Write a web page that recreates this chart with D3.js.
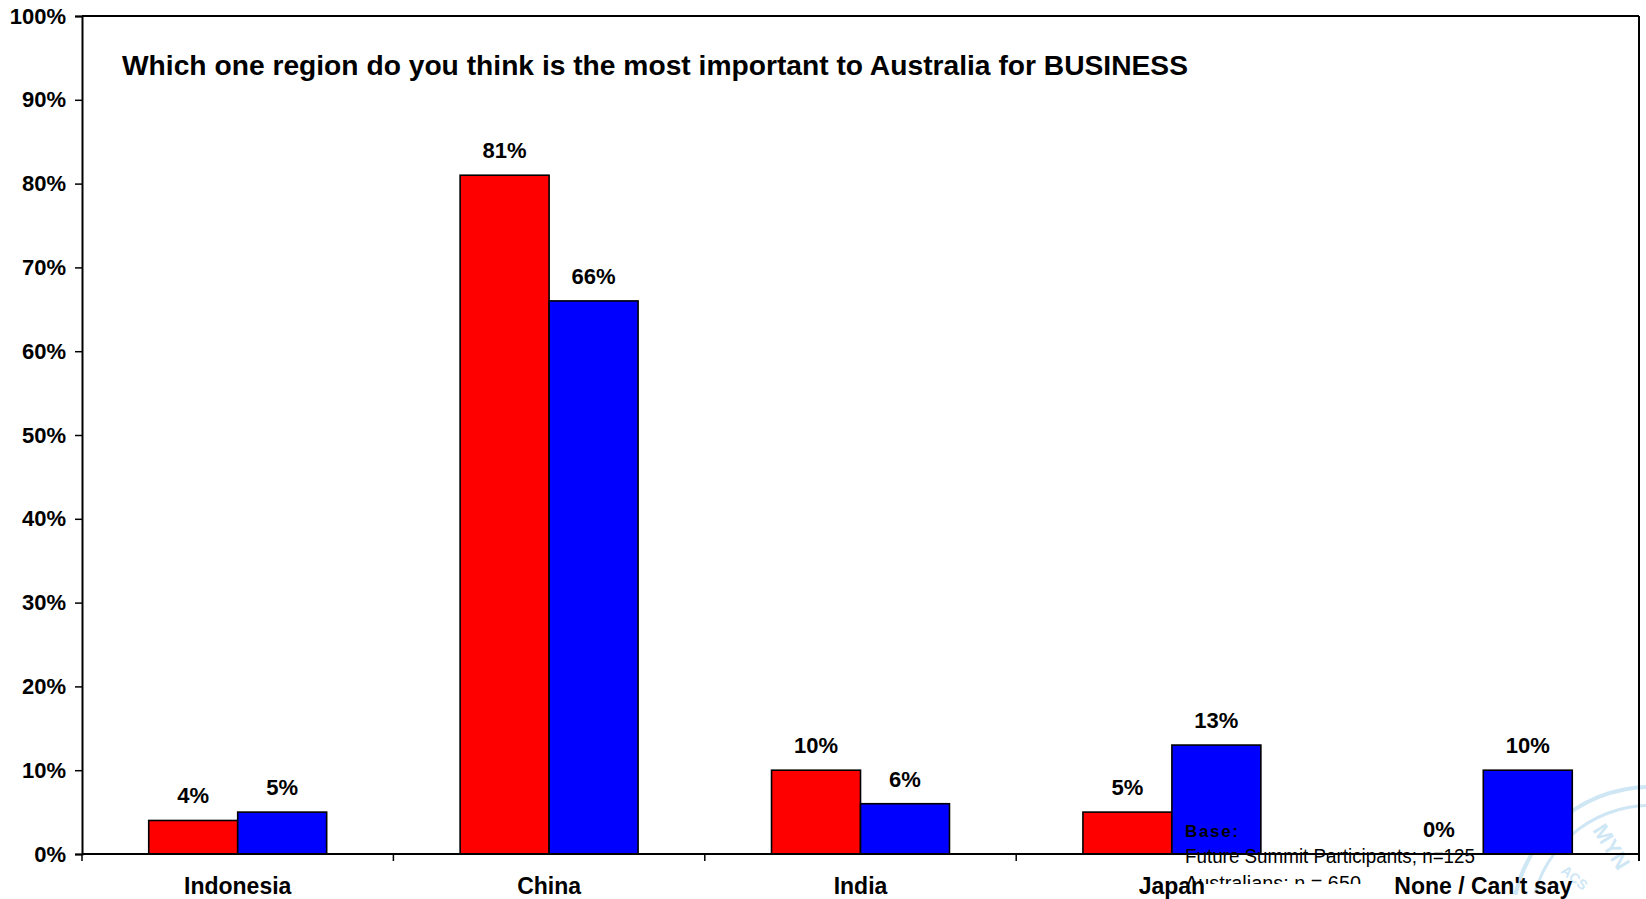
<!DOCTYPE html>
<html>
<head>
<meta charset="utf-8">
<script src="https://cdn.jsdelivr.net/npm/d3@7"></script>
<style>
  html, body { margin: 0; padding: 0; background: #fff; overflow: hidden; }
  svg { display: block; }
  text { font-family: "Liberation Sans", Arial, Helvetica, sans-serif; }
</style>
</head>
<body>
<svg id="chart" width="1646" height="899"></svg>
<script>
const categories = ["Indonesia", "China", "India", "Japan", "None / Can't say"];
const seriesNames = ["Future Summit Participants", "Australians"];
const futureSummit = [0.04, 0.81, 0.10, 0.05, 0.00];
const australians = [0.05, 0.66, 0.06, 0.13, 0.10];
const seriesColors = ["#FF0000", "#0000FF"];
const yTicks = [0, 0.1, 0.2, 0.3, 0.4, 0.5, 0.6, 0.7, 0.8, 0.9, 1.0];
const titleText = "Which one region do you think is the most important to Australia for BUSINESS";
const baseLines = ["Base:", "Future Summit Participants; n=125", "Australians: n = 650"];

const svg = d3.select("#chart");
const plot = { left: 82, right: 1639, top: 16, bottom: 854 };

const x0 = d3.scaleBand().domain(categories).range([plot.left, plot.right]).paddingInner(0).paddingOuter(0);
const x1 = d3.scaleBand().domain(seriesNames).range([0, x0.bandwidth()]).paddingInner(0).paddingOuter(0.75);
const y = d3.scaleLinear().domain([0, 1]).range([plot.bottom, plot.top]);

const data = categories.map((c, i) => ({
  cat: c,
  values: [
    { s: seriesNames[0], v: futureSummit[i], color: seriesColors[0] },
    { s: seriesNames[1], v: australians[i], color: seriesColors[1] }
  ]
}));

// watermark stamp (faint)
const wm = svg.append("g").attr("opacity", 0.55);
const wmArc = d3.arc();
wm.append("path")
  .attr("transform", "translate(1650,925)")
  .attr("d", wmArc({ innerRadius: 136, outerRadius: 140, startAngle: -1.35, endAngle: 0.2 }))
  .attr("fill", "#a8d4ee");
wm.append("path")
  .attr("transform", "translate(1650,925)")
  .attr("d", wmArc({ innerRadius: 118, outerRadius: 121, startAngle: -1.3, endAngle: 0.2 }))
  .attr("fill", "#a8d4ee");
wm.append("text")
  .attr("transform", "translate(1592,830) rotate(58)")
  .attr("font-size", 22).attr("font-weight", "bold").attr("fill", "#a8d4ee")
  .text("MYN");
wm.append("text")
  .attr("transform", "translate(1560,872) rotate(40)")
  .attr("font-size", 14).attr("font-weight", "bold").attr("fill", "#a8d4ee")
  .text("ACS");

// plot border (top and right)
svg.append("line").attr("x1", plot.left).attr("x2", plot.right).attr("y1", plot.top).attr("y2", plot.top)
  .attr("stroke", "#000").attr("stroke-width", 2);
svg.append("line").attr("x1", plot.right).attr("x2", plot.right).attr("y1", plot.top).attr("y2", plot.bottom + 7)
  .attr("stroke", "#000").attr("stroke-width", 2);

// title
svg.append("text")
  .attr("x", 122).attr("y", 75)
  .attr("font-size", 27.5).attr("font-weight", "bold").attr("fill", "#000")
  .attr("textLength", 1066).attr("lengthAdjust", "spacingAndGlyphs")
  .text(titleText);

// bars
const groups = svg.append("g").selectAll("g").data(data).join("g")
  .attr("transform", d => `translate(${x0(d.cat)},0)`);

groups.selectAll("rect").data(d => d.values.filter(v => v.v > 0)).join("rect")
  .attr("x", d => x1(d.s))
  .attr("y", d => y(d.v))
  .attr("width", x1.bandwidth())
  .attr("height", d => y(0) - y(d.v))
  .attr("fill", d => d.color)
  .attr("stroke", "#000").attr("stroke-width", 1.6);

groups.selectAll("text.val").data(d => d.values).join("text")
  .attr("class", "val")
  .attr("x", d => x1(d.s) + x1.bandwidth() / 2)
  .attr("y", d => y(d.v) - 17)
  .attr("text-anchor", "middle")
  .attr("font-size", 22).attr("font-weight", "bold").attr("fill", "#000")
  .text(d => d3.format(".0%")(d.v));

// y axis
const yAxis = d3.axisLeft(y).tickValues(yTicks).tickFormat(d3.format(".0%")).tickSize(7).tickPadding(9);
const gy = svg.append("g").attr("transform", `translate(${plot.left},0)`).call(yAxis);
gy.select(".domain").attr("stroke", "#000").attr("stroke-width", 2);
gy.selectAll(".tick line").attr("stroke", "#000").attr("stroke-width", 1.5);
gy.selectAll(".tick text").attr("font-size", 22).attr("font-weight", "bold").attr("fill", "#000")
  .attr("font-family", "\"Liberation Sans\", Arial, sans-serif");

// x axis: line + boundary ticks
const gx = svg.append("g");
gx.append("line").attr("x1", plot.left).attr("x2", plot.right).attr("y1", plot.bottom).attr("y2", plot.bottom)
  .attr("stroke", "#000").attr("stroke-width", 2);
const boundaries = categories.map(c => x0(c)).concat([plot.right]);
gx.selectAll("line.bt").data(boundaries).join("line").attr("class", "bt")
  .attr("x1", d => d).attr("x2", d => d).attr("y1", plot.bottom).attr("y2", plot.bottom + 7)
  .attr("stroke", "#000").attr("stroke-width", 1.5);

// base note (clipped)
svg.append("clipPath").attr("id", "baseClip").append("rect")
  .attr("x", 1100).attr("y", 800).attr("width", 500).attr("height", 84);
const note = svg.append("g").attr("clip-path", "url(#baseClip)");
note.append("text").attr("x", 1185).attr("y", 837)
  .attr("font-size", 17).attr("font-weight", "bold").attr("fill", "#000")
  .attr("textLength", 53).attr("lengthAdjust", "spacing")
  .text(baseLines[0]);
note.append("text").attr("x", 1185).attr("y", 863)
  .attr("font-size", 20.5).attr("fill", "#000")
  .attr("textLength", 290).attr("lengthAdjust", "spacingAndGlyphs")
  .text(baseLines[1]);
note.append("text").attr("x", 1185).attr("y", 890)
  .attr("font-size", 20.5).attr("fill", "#000")
  .attr("textLength", 176).attr("lengthAdjust", "spacingAndGlyphs")
  .text(baseLines[2]);

// category labels
svg.append("g").selectAll("text").data(categories).join("text")
  .attr("x", d => x0(d) + x0.bandwidth() / 2)
  .attr("y", 894)
  .attr("text-anchor", "middle")
  .attr("font-size", 23).attr("font-weight", "bold").attr("fill", "#000")
  .text(d => d);
</script>
</body>
</html>
